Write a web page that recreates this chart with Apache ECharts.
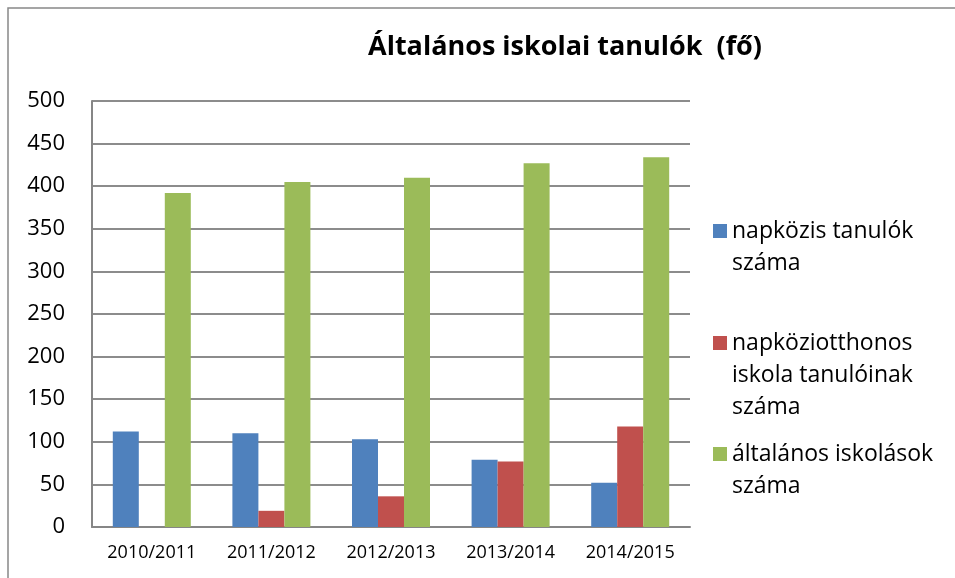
<!DOCTYPE html>
<html>
<head>
<meta charset="utf-8">
<script src="https://cdn.jsdelivr.net/npm/echarts@6/dist/echarts.min.js"></script>
<style>
  html, body { margin: 0; padding: 0; background: #fff; }
  #chart { width: 955px; height: 578px; }
</style>
</head>
<body>
<div id="chart"></div>
<script>
var years = ['2010/2011', '2011/2012', '2012/2013', '2013/2014', '2014/2015'];
var napkozis = [112, 110, 103, 79, 52];
var napkoziotthonos = [0, 19, 36, 77, 118];
var altalanos = [392, 405, 410, 427, 434];

var names = ['napközis tanulók\nszáma', 'napköziotthonos\niskola tanulóinak\nszáma', 'általános iskolások\nszáma'];
var colors = ['#4f81bd', '#c0504d', '#9bbb59'];

var lineH = 32;
var chart = echarts.init(document.getElementById('chart'));

// icon box is taller than the square so that the square lines up with the first text line
function legendFor(i, top, lines) {
  var h = 14 + (lines - 1) * lineH;
  return {
    data: [names[i]],
    orient: 'vertical',
    left: 708,
    top: top,
    icon: 'path://M0,0h14v14h-14z M0,' + h + 'h14',
    itemWidth: 14,
    itemHeight: h,
    itemGap: 0,
    selectedMode: false,
    textStyle: {
      fontFamily: 'Open Sans',
      fontSize: 23,
      color: '#000',
      lineHeight: lineH
    }
  };
}

option = {
  backgroundColor: '#fff',
  animation: false,
  title: {
    text: 'Általános iskolai tanulók  (fő)',
    left: 560,
    top: 29,
    textAlign: 'center',
    textStyle: {
      fontFamily: 'Open Sans',
      fontWeight: 'bold',
      fontSize: 27,
      color: '#000'
    }
  },
  graphic: [{
    type: 'rect',
    shape: { x: 8, y: 8, width: 1000, height: 1000 },
    style: { fill: 'none', stroke: '#888', lineWidth: 1.5 },
    silent: true
  }],
  legend: [
    legendFor(0, 210, 2),
    legendFor(1, 322, 3),
    legendFor(2, 433, 2)
  ],
  grid: {
    left: 92,
    right: 265,
    top: 101,
    bottom: 51
  },
  xAxis: {
    type: 'category',
    data: years,
    axisLine: { lineStyle: { color: '#868686', width: 2 } },
    axisTick: { show: false },
    axisLabel: {
      interval: 0,
      fontFamily: 'Open Sans',
      fontSize: 18,
      color: '#000',
      margin: 17
    }
  },
  yAxis: {
    type: 'value',
    min: 0,
    max: 500,
    interval: 50,
    axisLine: { show: true, lineStyle: { color: '#868686', width: 2 } },
    axisTick: { show: false },
    splitLine: { lineStyle: { color: '#8c8c8c', width: 2 } },
    axisLabel: {
      fontFamily: 'Open Sans',
      fontSize: 22,
      color: '#000',
      margin: 27
    }
  },
  series: [
    { name: names[0], type: 'bar', data: napkozis, barWidth: 26, barGap: '0%', itemStyle: { color: colors[0] } },
    { name: names[1], type: 'bar', data: napkoziotthonos, barWidth: 26, barGap: '0%', itemStyle: { color: colors[1] } },
    { name: names[2], type: 'bar', data: altalanos, barWidth: 26, barGap: '0%', itemStyle: { color: colors[2] } }
  ]
};
chart.setOption(option);
</script>
</body>
</html>
